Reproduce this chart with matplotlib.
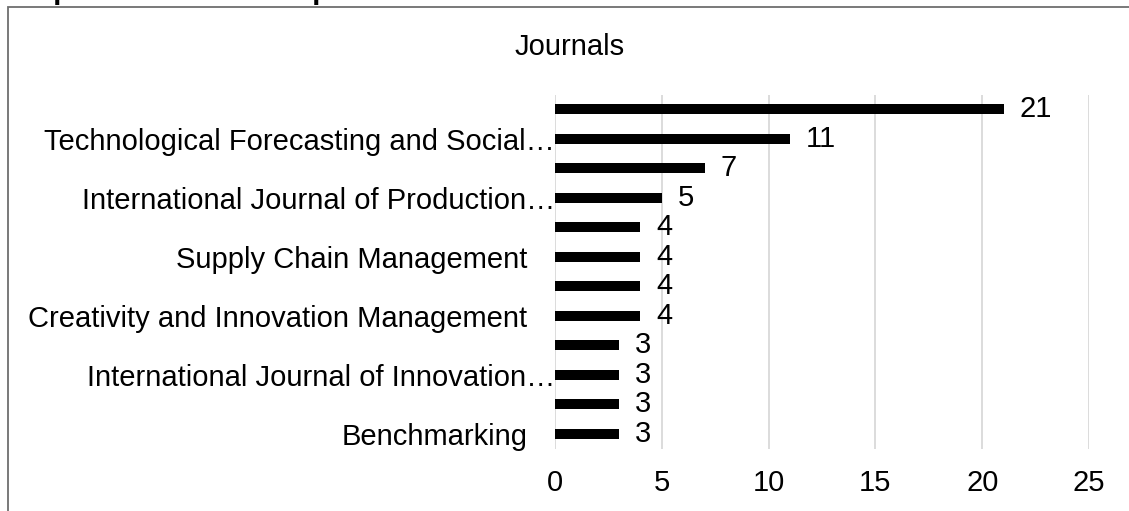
import matplotlib.pyplot as plt
import matplotlib.transforms as mtransforms
from matplotlib.patches import Rectangle

plt.rcParams['font.family'] = ['Liberation Sans', 'DejaVu Sans']

# categories, top to bottom (Excel only shows every other label)
journals = ['',
            'Technological Forecasting and Social\u2026',
            '',
            'International Journal of Production\u2026',
            '',
            'Supply Chain Management',
            '',
            'Creativity and Innovation Management',
            '',
            'International Journal of Innovation\u2026',
            '',
            'Benchmarking']
counts = [21, 11, 7, 5, 4, 4, 4, 4, 3, 3, 3, 3]
x_ticks = [0, 5, 10, 15, 20, 25]

FS = 21
fig = plt.figure(figsize=(11.29, 5.11), dpi=100)
W, H = 1129, 511
ax = fig.add_axes([555 / W, 1 - 448.5 / H, (1089 - 555) / W, (448.5 - 94.5) / H])

y = list(range(len(counts)))[::-1]
ax.barh(y, counts, height=0.34, color='black', zorder=3)
for yi, c in zip(y, counts):
    ax.annotate(str(c), (c, yi), xytext=(11.5, 0), textcoords='offset points',
                va='center', ha='left', fontsize=FS)

ax.set_xlim(0, 25)
ax.set_ylim(-0.5, len(counts) - 0.5)
ax.set_xticks(x_ticks)
ax.set_xticklabels([str(t) for t in x_ticks], fontsize=FS)
ax.set_yticks(y)
ax.set_yticklabels(journals, fontsize=FS)
ax.tick_params(length=0)
ax.tick_params(axis='x', pad=15)
ax.tick_params(axis='y', pad=20)
for s in ax.spines.values():
    s.set_visible(False)
ax.xaxis.grid(True, color='#d9d9d9', linewidth=1.3, zorder=0)
ax.set_axisbelow(True)

# truncated labels run right up to the axis
shift = mtransforms.ScaledTranslation(20 / 72, 0, fig.dpi_scale_trans)
for lab in ax.get_yticklabels():
    if lab.get_text().endswith('\u2026'):
        lab.set_transform(lab.get_transform() + shift)

fig.text(570 / W, 1 - 47 / H, 'Journals', ha='center', va='center', fontsize=FS)

# heading of the page above, cut off by the crop
fig.text(3 / W, 1 + 1.5 / H, 'Graph 1 Journals that published the SMN literature',
         ha='left', va='baseline', fontsize=FS, fontweight='bold')

# chart border
fig.patches.append(Rectangle((8 / W, -0.1), 1.2, 1 - 7 / H + 0.1, transform=fig.transFigure,
                             fill=False, edgecolor='#6e6e6e', linewidth=1.3))

fig.savefig('out.png', dpi=100)
